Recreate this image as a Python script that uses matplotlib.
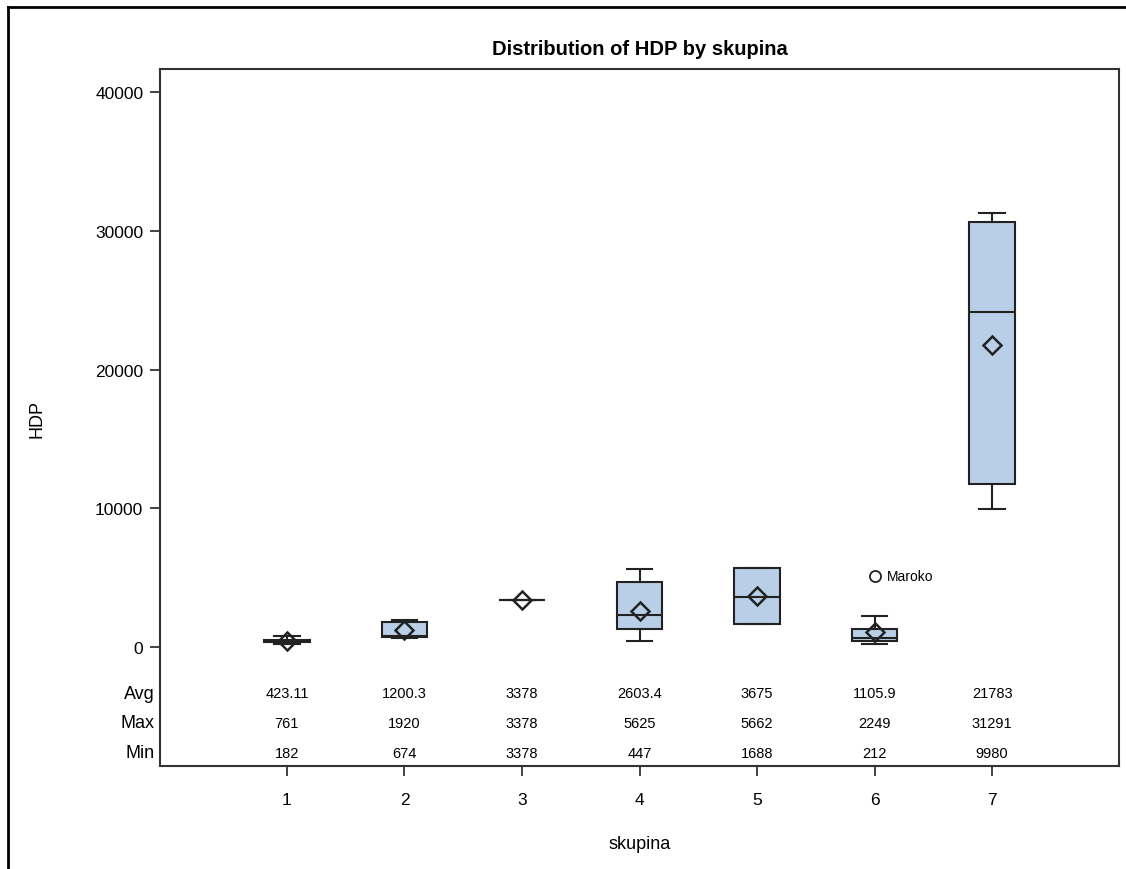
import matplotlib.pyplot as plt
from matplotlib.lines import Line2D
from matplotlib.transforms import blended_transform_factory

plt.rcParams['font.family'] = ['Liberation Sans', 'DejaVu Sans']

groups = [1, 2, 3, 4, 5, 6, 7]
mins = [182, 674, 3378, 447, 1688, 212, 9980]
q1s = [330, 700, 3378, 1300, 1688, 400, 11750]
medians = [400, 820, 3378, 2310, 3600, 630, 24120]
q3s = [470, 1800, 3378, 4660, 5662, 1300, 30650]
maxs = [761, 1920, 3378, 5625, 5662, 2249, 31291]
means = [423.11, 1200.3, 3378, 2603.4, 3675, 1105.9, 21783]
avg_labels = ["423.11", "1200.3", "3378", "2603.4", "3675", "1105.9", "21783"]
outlier_group = 6
outlier_value = 5100
outlier_name = "Maroko"

box_fill = "#B9CFE7"
edge = "#222222"

fig = plt.figure(figsize=(11.26, 8.7), dpi=100)
ax = fig.add_axes([0.1421, 0.1184, 0.8517, 0.8011])

stats = []
for g, lo, a, m, b, hi, mu in zip(groups, mins, q1s, medians, q3s, maxs, means):
    fl = [outlier_value] if g == outlier_group else []
    stats.append(dict(whislo=lo, q1=a, med=m, q3=b, whishi=hi, mean=mu,
                      fliers=fl, label=str(g)))

ax.bxp(stats, positions=groups, widths=0.39, patch_artist=True,
       showmeans=True, capwidths=0.22,
       boxprops=dict(facecolor=box_fill, edgecolor=edge, linewidth=1.5),
       medianprops=dict(color=edge, linewidth=1.5),
       whiskerprops=dict(color=edge, linewidth=1.5),
       capprops=dict(color=edge, linewidth=1.5),
       meanprops=dict(marker="D", markerfacecolor="none", markeredgecolor=edge,
                      markeredgewidth=1.8, markersize=9.5),
       flierprops=dict(marker="o", markerfacecolor="none", markeredgecolor=edge,
                       markeredgewidth=1.3, markersize=8))

ax.annotate(outlier_name, (outlier_group, outlier_value), xytext=(9, 0),
            textcoords="offset points", va="center", ha="left", fontsize=10)

ax.set_xlim(1 - 1.08, 7 + 1.08)
ax.set_ylim(-8577, 41658)
ax.set_yticks([0, 10000, 20000, 30000, 40000])
ax.set_yticklabels(["0", "10000", "20000", "30000", "40000"])
ax.set_xticks(groups)
ax.set_xticklabels([str(g) for g in groups])
ax.tick_params(axis="both", direction="out", length=7, width=1.2,
               labelsize=12.5, pad=5, color=edge)
ax.tick_params(axis="x", pad=12)
for s in ax.spines.values():
    s.set_linewidth(1.5)
    s.set_color("#333333")

ax.set_title("Distribution of HDP by skupina", fontsize=14.5, fontweight="bold",
             pad=11)
ax.set_xlabel("skupina", fontsize=13, labelpad=20)
ax.set_ylabel("HDP", fontsize=13, labelpad=36)

# statistics table under the boxes
trans = blended_transform_factory(ax.transData, ax.transAxes)
rows = [("Avg", avg_labels, 0.1046),
        ("Max", [str(v) for v in maxs], 0.0617),
        ("Min", [str(v) for v in mins], 0.0187)]
for name, vals, yy in rows:
    ax.text(-0.006, yy, name, transform=ax.transAxes, ha="right", va="center",
            fontsize=13)
    for g, v in zip(groups, vals):
        ax.text(g, yy, v, transform=trans, ha="center", va="center",
                fontsize=10.5)

# outer frame of the graphic
fig.add_artist(Line2D([8 / 1126, 8 / 1126], [0, 1 - 8 / 870],
                      transform=fig.transFigure, color="black", lw=2))
fig.add_artist(Line2D([8 / 1126, 1], [1 - 8 / 870, 1 - 8 / 870],
                      transform=fig.transFigure, color="black", lw=2))

fig.savefig("out.png", dpi=100)
